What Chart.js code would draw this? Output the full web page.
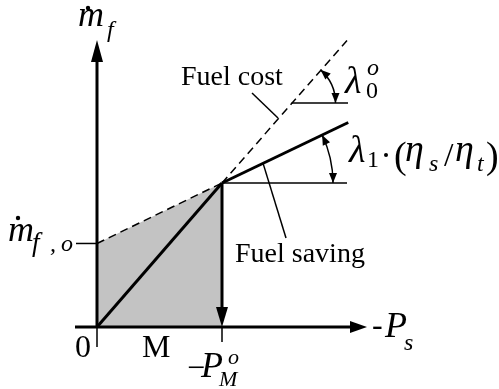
<!DOCTYPE html>
<html>
<head>
<meta charset="utf-8">
<script src="https://cdn.jsdelivr.net/npm/chart.js@4/dist/chart.umd.min.js"></script>
<style>
  html, body { margin: 0; padding: 0; background: #fff; }
  #wrap { width: 499px; height: 389px; }
</style>
</head>
<body>
<div id="wrap"><canvas id="fuelChart" width="499" height="389"></canvas></div>
<script>
// power axis (-P_s): origin and the rated point P_M^o
const powerX = [0, 1];
// fuel cost line through the origin, fuel saving line through m_f,o
const costX = [0, 1, 2.0];
const costY = [0, 1, 1.99];
const savingX = [0, 1, 2.01];
const savingY = [0.58, 1, 1.42];
// reference level for the lambda_0 angle
const lambda0Level = 1.556;
// leader line anchors (on the line, then towards the label)
const costLeader = [[1.448, 1.451], [1.24, 1.625]];
const savingLeader = [[1.328, 1.138], [1.512, 0.618]];

const X_MIN = -0.776, X_MAX = 3.216, Y_MIN = -0.4306, Y_MAX = 2.2708;

const pts = (xs, ys) => xs.map((x, i) => ({ x, y: ys[i] }));
const seg = (a, b) => [{ x: a[0], y: a[1] }, { x: b[0], y: b[1] }];

const thick = 3, thin = 1.5;
const line = (data, width, dash) => ({
    data,
    order: 0,
    showLine: true,
    borderColor: '#000',
    borderWidth: width,
    borderDash: dash || [],
    pointRadius: 0,
    fill: false,
    borderCapStyle: 'butt'
});

const datasets = [
    // shaded area under the fuel saving line up to P_M^o (drawn underneath)
    {
        data: pts(savingX.slice(0, 2), savingY.slice(0, 2)),
        order: 10,
        showLine: true,
        borderWidth: 0,
        pointRadius: 0,
        backgroundColor: '#c3c3c3',
        fill: 'origin'
    },
    line(pts(costX.slice(0, 2), costY.slice(0, 2)), thick),
    line(pts(costX.slice(1), costY.slice(1)), thin, [8, 5]),
    line(pts(savingX.slice(0, 2), savingY.slice(0, 2)), thin, [8, 5]),
    line(pts(savingX.slice(1), savingY.slice(1)), thick),
    // axes
    line(seg([0, 0], [0, 1.84]), thick),
    line(seg([-0.176, 0], [2.04, 0]), thick),
    // drop from the rated point down to the power axis
    line(seg([powerX[1], savingY[1]], [powerX[1], 0.139]), thick),
    // ticks
    line(seg([0, 0], [0, -0.139]), thin),
    line(seg([powerX[1], 0], [powerX[1], -0.104]), thin),
    line(seg([-0.168, savingY[0]], [0, savingY[0]]), thin),
    // angle references
    line(seg([savingX[1], savingY[1]], [2.0, savingY[1]]), thin),
    line(seg([lambda0Level, lambda0Level], [2.008, lambda0Level]), thin),
    // leaders
    line(seg(costLeader[0], costLeader[1]), thin),
    line(seg(savingLeader[0], savingLeader[1]), thin)
];

function arrowHead(ctx, tipX, tipY, ang, len, half) {
    ctx.save();
    ctx.translate(tipX, tipY);
    ctx.rotate(ang);
    ctx.beginPath();
    ctx.moveTo(0, 0);
    ctx.lineTo(-len, -half);
    ctx.lineTo(-len, half);
    ctx.closePath();
    ctx.fill();
    ctx.restore();
}

// arc between two rays, arrowheads on both ends
function angleArc(ctx, cx, cy, r, a0, a1) {
    ctx.beginPath();
    ctx.lineWidth = 1.5;
    ctx.arc(cx, cy, r, a0, a1);
    ctx.stroke();
    const e0 = [cx + r * Math.cos(a0), cy + r * Math.sin(a0)];
    const e1 = [cx + r * Math.cos(a1), cy + r * Math.sin(a1)];
    arrowHead(ctx, e0[0], e0[1], a0 - Math.PI / 2, 10, 4);
    arrowHead(ctx, e1[0], e1[1], a1 + Math.PI / 2, 10, 4);
}

const SERIF = '"Liberation Serif", "Times New Roman", serif';
function txt(ctx, s, x, y, size, italic) {
    ctx.font = (italic ? 'italic ' : '') + size + 'px ' + SERIF;
    ctx.fillText(s, x, y);
}
function dot(ctx, x, y, r) {
    ctx.beginPath();
    ctx.arc(x, y, r, 0, Math.PI * 2);
    ctx.fill();
}

const annotations = {
    id: 'annotations',
    afterDatasetsDraw(chart) {
        const { ctx, scales: { x, y } } = chart;
        const px = v => x.getPixelForValue(v);
        const py = v => y.getPixelForValue(v);
        ctx.save();
        ctx.fillStyle = '#000';
        ctx.strokeStyle = '#000';

        // axis arrowheads
        arrowHead(ctx, px(0), py(1.993), -Math.PI / 2, 22, 6);
        arrowHead(ctx, px(2.16), py(0), 0, 17, 6);
        arrowHead(ctx, px(powerX[1]), py(0), Math.PI / 2, 20, 6);

        // lambda_1 angle between saving line and horizontal
        const vx = px(savingX[1]), vy = py(savingY[1]);
        const slope1 = Math.atan2(py(savingY[2]) - vy, px(savingX[2]) - vx);
        angleArc(ctx, vx, vy, 111, slope1, 0);

        // lambda_0 angle between cost line and horizontal
        const wx = px(lambda0Level), wy = py(lambda0Level);
        const slope0 = Math.atan2(py(costY[2]) - py(costY[1]), px(costX[2]) - px(costX[1]));
        angleArc(ctx, wx, wy, 44, slope0, 0);

        ctx.textBaseline = 'alphabetic';
        ctx.textAlign = 'left';

        // m_f on the vertical axis
        txt(ctx, 'm', 78, 26, 36, true);
        dot(ctx, 88, 8, 2.2);
        txt(ctx, 'f', 107, 37, 24, true);

        // m_f,o
        txt(ctx, 'm', 8, 241, 36, true);
        dot(ctx, 18, 218, 2.2);
        txt(ctx, 'f', 32, 251, 27, true);
        txt(ctx, ',', 50, 251, 24, true);
        txt(ctx, 'o', 61, 251, 24, true);

        // lambda_0^o
        txt(ctx, 'λ', 345, 93, 38, true);
        txt(ctx, '0', 366, 98, 24, false);
        txt(ctx, 'o', 367, 75, 24, true);

        // lambda_1 . (eta_s / eta_t)
        txt(ctx, 'λ', 349, 162, 38, true);
        txt(ctx, '1', 367, 167, 24, false);
        dot(ctx, 386, 155, 2);
        txt(ctx, '(', 394, 168, 38, false);
        txt(ctx, 'η', 405, 161, 38, true);
        txt(ctx, 's', 429, 171, 24, true);
        txt(ctx, '/', 444, 166, 34, false);
        txt(ctx, 'η', 455, 161, 38, true);
        txt(ctx, 't', 477, 171, 24, true);
        txt(ctx, ')', 486, 168, 38, false);

        txt(ctx, 'Fuel cost', 181, 85, 28, false);
        txt(ctx, 'Fuel saving', 235, 262, 28, false);

        // power axis labels
        txt(ctx, '0', 75, 357, 32, false);
        txt(ctx, 'M', 142, 357, 32, false);
        txt(ctx, '\u2212', 187, 378, 32, false);
        txt(ctx, 'P', 201, 377, 36, true);
        txt(ctx, 'M', 219, 386, 22, true);
        txt(ctx, 'o', 228, 364, 22, true);

        txt(ctx, '-', 372, 335, 32, false);
        txt(ctx, 'P', 385, 337, 36, true);
        txt(ctx, 's', 404, 350, 24, true);

        ctx.restore();
    }
};

new Chart(document.getElementById('fuelChart'), {
    type: 'scatter',
    data: { datasets },
    options: {
        responsive: false,
        animation: false,
        events: [],
        layout: { padding: 0 },
        plugins: { legend: { display: false }, tooltip: { enabled: false } },
        scales: {
            x: { type: 'linear', display: false, min: X_MIN, max: X_MAX },
            y: { type: 'linear', display: false, min: Y_MIN, max: Y_MAX }
        }
    },
    plugins: [annotations]
});
</script>
</body>
</html>
